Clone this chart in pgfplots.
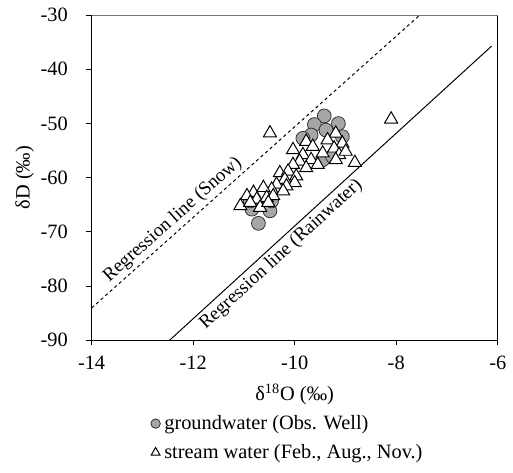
\documentclass[border=0pt]{standalone}
\usepackage{fontspec}
\setmainfont{Liberation Serif}
\usepackage{pgfplots}
\pgfplotsset{compat=1.18}

\definecolor{gwfill}{HTML}{A6A6A6}

\pgfplotsset{
  gwleg/.style={legend image code/.code={\draw[##1, mark size=2.4pt] plot coordinates {(0pt,0pt)};}},
  swleg/.style={legend image code/.code={\draw[##1, mark size=2.6pt] plot coordinates {(0pt,0pt)};}},
}

\begin{document}
\fontsize{10.3}{12.4}\selectfont
\begin{tikzpicture}
  \begin{axis}[
      name=ax,
      scale only axis,
      width=205.5pt, height=164.5pt,
      xmin=-14, xmax=-6, ymin=-90, ymax=-30,
      xtick={-14,-12,-10,-8,-6}, ytick={-90,-80,-70,-60,-50,-40,-30},
      tick pos=left, tick align=outside, major tick length=2.6pt,
      tick style={black, line width=0.5pt},
      axis line style={black, line width=0.6pt},
      /pgf/number format/assume math mode=true,
      tick label style={font=\fontsize{10.3}{12.4}\selectfont},
      yticklabel style={xshift=-5.8pt},
      xticklabel style={yshift=-1.8pt},
      xlabel={δ\textsuperscript{18}O (‰)}, ylabel={δD (‰)},
      label style={font=\fontsize{10.3}{12.4}\selectfont},
      every axis x label/.style={at={(axis description cs:0.5,-0.166)}, anchor=center},
      every axis y label/.style={at={(axis description cs:-0.165,0.5)}, anchor=center, rotate=90},
      legend style={at={(axis description cs:0.145,-0.2167)}, anchor=north west,
                    draw=none, fill=none, font=\fontsize{10.3}{12.4}\selectfont,
                    inner sep=0pt, row sep=2pt, cells={anchor=west}},
    ]
    % regression lines
    \addplot[black, line width=0.5pt, dash pattern=on 1.6pt off 1.5pt, forget plot]
      coordinates {(-14,-84.06) (-7.536,-30)};
    \addplot[black, line width=0.5pt, forget plot]
      coordinates {(-12.463,-90) (-6.122,-35.73)};
    \node[rotate=41.7, anchor=south, inner sep=1.5pt, font=\fontsize{9.6}{11}\selectfont]
      at (axis cs:-12.245,-69.4) {Regression line (Snow)};
    \node[rotate=42.4, anchor=north, inner sep=1.5pt, font=\fontsize{9.6}{11}\selectfont]
      at (axis cs:-10.427,-72.55) {Regression line (Rainwater)};
    % groundwater
    \addplot[only marks, mark=*, mark size=3.5pt,
             mark options={fill=gwfill, draw=black!80, line width=0.4pt}, gwleg]
      coordinates {(-9.417,-48.61) (-9.611,-50.19) (-9.138,-50.01) (-10.714,-68.43)
                   (-10.487,-66.12) (-10.843,-65.81) (-9.676,-52.13) (-9.384,-51.22)
                   (-9.060,-52.44) (-9.449,-56.70) (-9.255,-56.09) (-10.454,-64.29)
                   (-10.876,-64.29) (-9.838,-52.74)};
    \addlegendentry{groundwater (Obs. Well)}
    % stream water
    \addplot[only marks, mark=triangle*, mark size=3.8pt,
             mark options={fill=white, draw=black, line width=0.5pt}, swleg]
      coordinates {(-10.487,-51.77) (-8.100,-49.22) (-8.814,-57.24)
                   (-9.190,-51.83) (-9.773,-53.35) (-9.644,-54.26) (-9.352,-53.05)
                   (-9.060,-53.66) (-9.222,-54.57) (-9.449,-55.48) (-10.033,-54.87)
                   (-9.838,-55.78) (-9.676,-56.70) (-9.546,-57.61) (-9.125,-55.78)
                   (-9.190,-56.70) (-9.903,-57.00) (-9.773,-58.21) (-10.033,-57.61)
                   (-8.995,-55.17) (-10.292,-59.13) (-10.130,-58.82) (-9.968,-59.73)
                   (-10.195,-60.34) (-10.357,-61.25) (-10.000,-60.95) (-10.162,-61.56)
                   (-10.454,-62.17) (-10.227,-62.47) (-10.616,-61.86) (-10.811,-62.77)
                   (-10.940,-63.38) (-11.070,-65.21) (-10.746,-63.99) (-10.551,-63.69)
                   (-10.422,-63.38) (-10.876,-64.60) (-10.681,-65.51) (-10.519,-64.60)};
    \addlegendentry{stream water (Feb., Aug., Nov.)}
  \end{axis}
  \draw[black!55, line width=0.6pt] (ax.north west) -- (ax.north east);
  \path ([shift={(-46.35pt,-66.85pt)}]ax.south west) rectangle ([shift={(4.5pt,7.65pt)}]ax.north east);
\end{tikzpicture}
\end{document}
